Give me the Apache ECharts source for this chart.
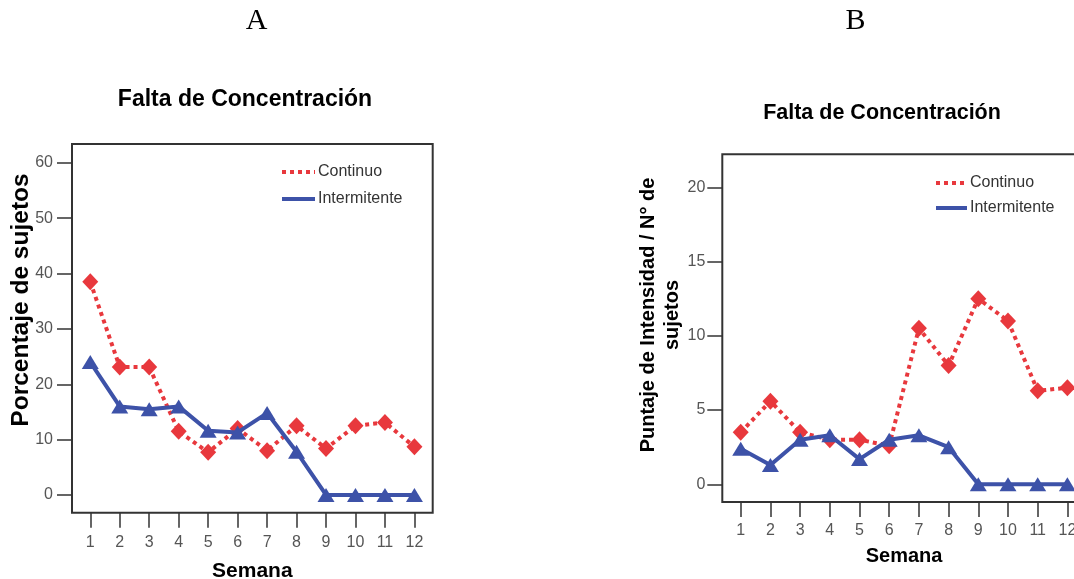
<!DOCTYPE html>
<html>
<head>
<meta charset="utf-8">
<script src="https://cdn.jsdelivr.net/npm/echarts@6/dist/echarts.min.js"></script>
<style>
html,body{margin:0;padding:0;background:#fff;}
#chart{width:1074px;height:579px;}
</style>
</head>
<body>
<div id="chart"></div>
<script>
// ---- data ----
var weeks = [1,2,3,4,5,6,7,8,9,10,11,12];
var seriesNames = ['Continuo','Intermitente'];
var panelLabels = ['A','B'];
var chartTitle = 'Falta de Concentración';
var xAxisTitle = 'Semana';
var yTitleA = 'Porcentaje de sujetos';
var yTitleB = 'Puntaje de Intensidad / N° de\nsujetos';
var ticksA = [0,10,20,30,40,50,60];
var ticksB = [0,5,10,15,20];
var contA = [38.5,23.1,23.1,11.5,7.7,12.0,8.0,12.5,8.4,12.5,13.1,8.7];
var interA = [24.0,16.0,15.5,16.0,11.6,11.3,14.8,7.8,0,0,0,0];
var contB = [3.5,5.6,3.5,3.0,3.0,2.6,10.5,8.0,12.5,11.0,6.3,6.5];
var interB = [2.4,1.3,3.0,3.3,1.7,3.0,3.3,2.5,0,0,0,0];

var RED = '#E8383D', BLUE = '#3D52A8';
var FONT = '"Liberation Sans", Arial, sans-serif';

function pairs(vals){ return vals.map(function(v,i){ return [weeks[i], v]; }); }

function xAxisCfg(gi, margin, nameGap, nameSize){
  return {
    type:'value', gridIndex:gi, min:0.38, max:12.62,
    axisLine:{show:false, onZero:false},
    axisTick:{show:true, inside:false, length:15, customValues:weeks, lineStyle:{color:'#333', width:1.5}},
    axisLabel:{customValues:weeks, margin:margin, color:'#555', fontSize:16, fontFamily:FONT},
    splitLine:{show:false},
    name:xAxisTitle, nameLocation:'middle', nameGap:nameGap, nameMoveOverlap:false,
    nameTextStyle:{fontSize:nameSize, fontWeight:'bold', color:'#000', fontFamily:FONT}
  };
}
function yAxisCfg(gi, mn, mx, ticks, margin){
  return {
    type:'value', gridIndex:gi, min:mn, max:mx,
    axisLine:{show:false, onZero:false},
    axisTick:{show:true, inside:false, length:15, customValues:ticks, lineStyle:{color:'#333', width:1.5}},
    axisLabel:{customValues:ticks, margin:margin, color:'#555', fontSize:16, fontFamily:FONT},
    splitLine:{show:false}
  };
}
function lineSeries(name, vals, xi, isCont){
  return {
    name:name, type:'line', xAxisIndex:xi, yAxisIndex:xi, data:pairs(vals),
    symbol: isCont ? 'diamond' : 'triangle',
    symbolSize: isCont ? [16,17] : [17,14],
    itemStyle:{color: isCont ? RED : BLUE},
    lineStyle:{color: isCont ? RED : BLUE, width:4, type: isCont ? [4,4] : 'solid'},
    z: isCont ? 2 : 3,
    animation:false
  };
}
function legendCfg(left, top, w, gap){
  return {data:seriesNames, orient:'vertical', left:left, top:top, padding:0,
    itemWidth:w, itemHeight:14, itemGap:gap,
    itemStyle:{opacity:0}, lineStyle:{width:4},
    textStyle:{fontSize:16, color:'#333', fontFamily:FONT, padding:[0,0,0,-2]},
    selectedMode:false};
}

var chart = echarts.init(document.getElementById('chart'), null, {renderer:'canvas'});
chart.setOption({
  animation:false,
  backgroundColor:'#fff',
  grid:[
    {left:72, top:144, width:360.7, height:368.7, show:true, borderColor:'#333', borderWidth:2, backgroundColor:'transparent', outerBoundsMode:'none', containLabel:false},
    {left:722.3, top:154.3, width:363.5, height:347.7, show:true, borderColor:'#333', borderWidth:2, backgroundColor:'transparent', outerBoundsMode:'none', containLabel:false}
  ],
  xAxis:[ xAxisCfg(0, 22, 48, 21), xAxisCfg(1, 21, 44, 20) ],
  yAxis:[ yAxisCfg(0, -3.2, 63.4, ticksA, 19), yAxisCfg(1, -1.19, 22.22, ticksB, 17) ],
  legend:[ legendCfg(280, 164, 33, 11), legendCfg(934, 175, 31, 9) ],
  series:[
    lineSeries(seriesNames[0], contA, 0, true),
    lineSeries(seriesNames[1], interA, 0, false),
    lineSeries(seriesNames[0], contB, 1, true),
    lineSeries(seriesNames[1], interB, 1, false)
  ],
  graphic:[
    {type:'text', x:256.5, y:21, style:{text:panelLabels[0], font:'30px "Liberation Serif", "Times New Roman", serif', fill:'#000', textAlign:'center', textVerticalAlign:'middle'}},
    {type:'text', x:855.5, y:21, style:{text:panelLabels[1], font:'30px "Liberation Serif", "Times New Roman", serif', fill:'#000', textAlign:'center', textVerticalAlign:'middle'}},
    {type:'text', x:245, y:100, style:{text:chartTitle, font:'bold 23px '+FONT, fill:'#000', textAlign:'center', textVerticalAlign:'middle'}},
    {type:'text', x:882, y:113, style:{text:chartTitle, font:'bold 21.5px '+FONT, fill:'#000', textAlign:'center', textVerticalAlign:'middle'}},
    {type:'text', x:21, y:300, rotation:Math.PI/2, style:{text:yTitleA, font:'bold 24.5px '+FONT, fill:'#000', textAlign:'center', textVerticalAlign:'middle'}},
    {type:'text', x:660, y:315, rotation:Math.PI/2, style:{text:yTitleB, font:'bold 20px '+FONT, fill:'#000', textAlign:'center', textVerticalAlign:'middle', lineHeight:24}}
  ]
});
</script>
</body>
</html>
